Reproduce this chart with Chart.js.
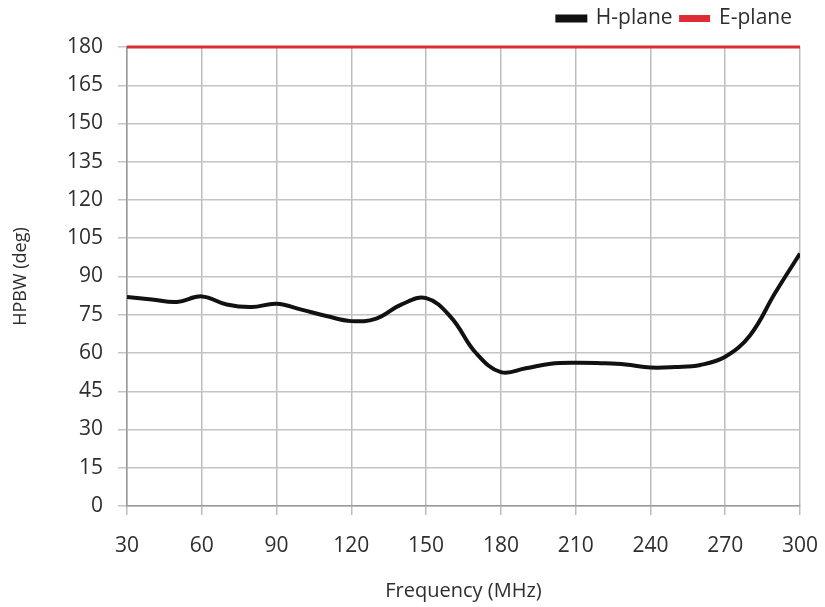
<!DOCTYPE html>
<html>
<head>
<meta charset="utf-8">
<script src="https://cdn.jsdelivr.net/npm/chart.js@4/dist/chart.umd.min.js"></script>
<style>
  html, body { margin: 0; padding: 0; background: #fff; }
  #wrap { width: 825px; height: 607px; }
</style>
</head>
<body>
<div id="wrap"><canvas id="hpbwChart"></canvas></div>
<script>
// Frequency points (MHz) and half-power beamwidth readings (deg)
const frequencies = [30, 40, 50, 60, 70, 80, 90, 100, 110, 120, 130, 140, 150, 160,
    170, 180, 190, 200, 210, 220, 230, 240, 250, 260, 270, 280, 290, 300];
const hPlane = [82, 81, 80, 82.2, 79, 78, 79.3, 77, 74.5, 72.5, 73.5, 79, 81.5, 74,
    60, 52.5, 54, 55.8, 56.2, 56, 55.5, 54.3, 54.5, 55.3, 58.5, 67, 83.5, 99];
const ePlane = frequencies.map(() => 180);

const xTicks = [30, 60, 90, 120, 150, 180, 210, 240, 270, 300];
const yTicks = [0, 15, 30, 45, 60, 75, 90, 105, 120, 135, 150, 165, 180];

const textColor = "#2e2e2e";
const fontFamily = "'Open Sans', sans-serif";

// Extra room under the legend
const legendGap = {
    id: "legendGap",
    beforeInit(chart) {
        const fit = chart.legend.fit;
        chart.legend.fit = function () {
            fit.bind(chart.legend)();
            this.height += 8;
        };
    },
};

const ctx = document.getElementById("hpbwChart").getContext("2d");

new Chart(ctx, {
    type: "line",
    data: {
        datasets: [
            {
                label: "H-plane",
                data: frequencies.map((f, i) => ({ x: f, y: hPlane[i] })),
                borderColor: "#111111",
                backgroundColor: "#111111",
                borderWidth: 4,
                pointRadius: 0,
                tension: 0.4,
            },
            {
                label: "E-plane",
                data: frequencies.map((f, i) => ({ x: f, y: ePlane[i] })),
                borderColor: "#dd2c35",
                backgroundColor: "#dd2c35",
                borderWidth: 3,
                pointRadius: 0,
                clip: 4,
            },
        ],
    },
    options: {
        responsive: true,
        maintainAspectRatio: false,
        animation: false,
        layout: { padding: { left: 6, right: 25, top: 0, bottom: 4 } },
        plugins: {
            legend: {
                position: "top",
                align: "end",
                labels: {
                    boxWidth: 28,
                    boxHeight: 4,
                    padding: 8,
                    color: textColor,
                    font: { family: fontFamily, size: 21 },
                },
            },
            tooltip: { enabled: false },
        },
        scales: {
            x: {
                type: "linear",
                min: 30,
                max: 300,
                afterBuildTicks(scale) {
                    scale.ticks = xTicks.map(v => ({ value: v }));
                },
                afterFit(scale) {
                    scale.height = 97;
                    scale.paddingLeft = 0;
                    scale.paddingRight = 0;
                },
                grid: { color: "#bdbdbd", tickLength: 9, lineWidth: 1.5 },
                border: { color: "#9a9a9a", width: 1.5 },
                ticks: {
                    color: textColor,
                    padding: 18,
                    maxRotation: 0,
                    font: { family: fontFamily, size: 21 },
                },
                title: {
                    display: true,
                    text: "Frequency (MHz)",
                    color: textColor,
                    padding: { top: 0, bottom: 0 },
                    font: { family: fontFamily, size: 20 },
                },
            },
            y: {
                min: 0,
                max: 180,
                afterBuildTicks(scale) {
                    scale.ticks = yTicks.map(v => ({ value: v }));
                },
                afterFit(scale) {
                    scale.width = 121;
                },
                grid: { color: "#c4c4c4", tickLength: 9, lineWidth: 1.5 },
                border: { color: "#9a9a9a", width: 1.5 },
                ticks: {
                    color: textColor,
                    padding: 15,
                    font: { family: fontFamily, size: 21 },
                },
                title: {
                    display: true,
                    text: "HPBW (deg)",
                    color: textColor,
                    padding: { top: 4, bottom: 0 },
                    font: { family: fontFamily, size: 18 },
                },
            },
        },
    },
    plugins: [legendGap],
});
</script>
</body>
</html>
